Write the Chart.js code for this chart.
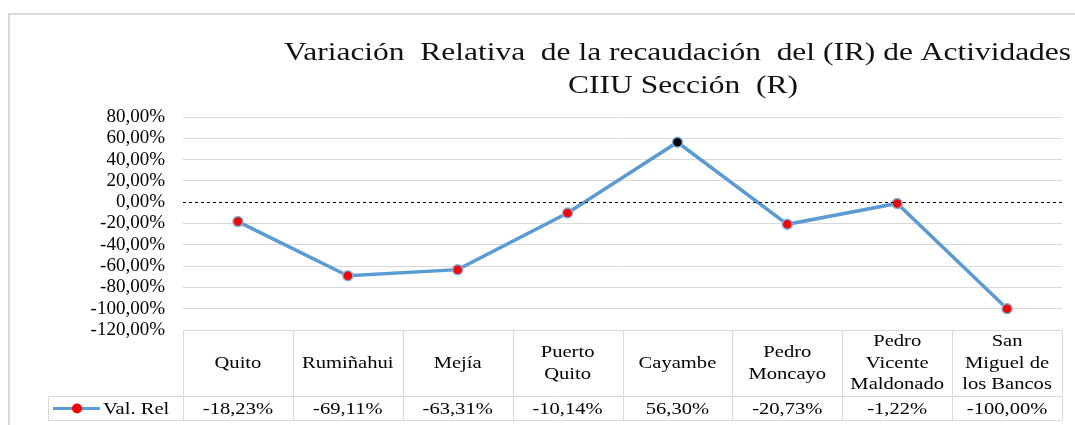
<!DOCTYPE html>
<html>
<head>
<meta charset="utf-8">
<script src="https://cdn.jsdelivr.net/npm/chart.js@4/dist/chart.umd.min.js"></script>
<style>
  html, body { margin: 0; padding: 0; background: #fff; overflow: hidden; }
</style>
</head>
<body>
<canvas id="variacionChart" width="1075" height="425"></canvas>
<script>
// Cantones (las filas de la tabla de datos, con saltos de linea)
const cantones = [
    ['Quito'],
    ['Rumiñahui'],
    ['Mejía'],
    ['Puerto', 'Quito'],
    ['Cayambe'],
    ['Pedro', 'Moncayo'],
    ['Pedro', 'Vicente', 'Maldonado'],
    ['San', 'Miguel de', 'los Bancos']
];
const valRel = [-18.23, -69.11, -63.31, -10.14, 56.30, -20.73, -1.22, -100.00];
const serieNombre = 'Val. Rel';
const tituloLineas = ['Variación  Relativa  de la recaudación  del (IR) de Actividades', 'CIIU Sección  (R)'];
const yMin = -120, yMax = 80, yStep = 20;

const FONT = '"Liberation Serif", "Times New Roman", serif';
const LINE_BLUE = '#5B9BD5';
const GRID = '#D9D9D9';
const STRETCH = 1.21; // the original text is a bit wider than tall

function fmtPct(v) {
    return v.toFixed(2).replace('.', ',') + '%';
}

function wideText(ctx, txt, x, y) {
    ctx.save();
    ctx.translate(x, y);
    ctx.scale(STRETCH, 1);
    ctx.fillText(txt, 0, 0);
    ctx.restore();
}

// the max point is drawn in black
const maxIdx = valRel.indexOf(Math.max(...valRel));

const tablaPlugin = {
    id: 'tablaDatos',
    beforeDraw(chart) {
        const ctx = chart.ctx;
        ctx.save();
        ctx.strokeStyle = GRID;
        ctx.lineWidth = 2;
        ctx.strokeRect(9, 14, 1200, 600);
        ctx.restore();
    },
    afterDatasetsDraw(chart) {
        // dashed zero line on top of the grid
        const ctx = chart.ctx;
        const area = chart.chartArea;
        const y0 = Math.round(chart.scales.y.getPixelForValue(0)) + 0.5;
        ctx.save();
        ctx.strokeStyle = '#000';
        ctx.lineWidth = 1;
        ctx.setLineDash([3, 3]);
        ctx.beginPath();
        ctx.moveTo(area.left, y0);
        ctx.lineTo(area.right, y0);
        ctx.stroke();
        ctx.restore();
    },
    afterDraw(chart) {
        const ctx = chart.ctx;
        const area = chart.chartArea;
        const xs = chart.scales.x;
        const n = cantones.length;
        const colW = (area.right - area.left) / n;
        const top = Math.round(area.bottom) + 0.5;
        const mid = top + 66;
        const bot = top + 90;
        const legLeft = 48.5;

        ctx.save();
        ctx.strokeStyle = GRID;
        ctx.lineWidth = 1;
        ctx.beginPath();
        ctx.moveTo(area.left, top); ctx.lineTo(area.right, top);
        ctx.moveTo(legLeft, mid); ctx.lineTo(area.right, mid);
        ctx.moveTo(legLeft, bot); ctx.lineTo(area.right, bot);
        ctx.moveTo(legLeft, mid); ctx.lineTo(legLeft, bot);
        for (let i = 0; i <= n; i++) {
            const x = Math.round(area.left + i * colW) + 0.5;
            ctx.moveTo(x, top); ctx.lineTo(x, bot);
        }
        ctx.stroke();

        ctx.fillStyle = '#000';
        ctx.font = '17px ' + FONT;
        ctx.textAlign = 'center';
        ctx.textBaseline = 'middle';
        const lh = 21.5;
        cantones.forEach((lines, i) => {
            const cx = xs.getPixelForValue(i);
            const startY = (top + mid) / 2 - (lines.length - 1) * lh / 2;
            lines.forEach((t, j) => wideText(ctx, t, cx, startY + j * lh));
            wideText(ctx, fmtPct(valRel[i]), cx, (mid + bot) / 2 + 1);
        });

        // legend key in the table
        const ly = (mid + bot) / 2;
        ctx.strokeStyle = LINE_BLUE;
        ctx.lineWidth = 3;
        ctx.beginPath();
        ctx.moveTo(53, ly); ctx.lineTo(100, ly);
        ctx.stroke();
        ctx.beginPath();
        ctx.arc(77, ly, 5, 0, Math.PI * 2);
        ctx.fillStyle = '#FF0000';
        ctx.fill();
        ctx.fillStyle = '#000';
        ctx.textAlign = 'left';
        wideText(ctx, serieNombre, 103, ly + 1);

        // title
        ctx.font = '26px ' + FONT;
        ctx.textBaseline = 'alphabetic';
        ctx.fillStyle = '#111';
        ctx.textAlign = 'left';
        wideText(ctx, tituloLineas[0], 284, 60);
        ctx.textAlign = 'center';
        wideText(ctx, tituloLineas[1], 683, 93);
        ctx.restore();
    }
};

const ctx = document.getElementById('variacionChart').getContext('2d');
new Chart(ctx, {
    type: 'line',
    data: {
        labels: cantones,
        datasets: [{
            label: serieNombre,
            data: valRel,
            borderColor: LINE_BLUE,
            borderWidth: 3.5,
            tension: 0,
            pointRadius: 5,
            pointBorderWidth: 1.5,
            pointBorderColor: '#7FB2E0',
            pointBackgroundColor: (c) => c.dataIndex === maxIdx ? '#000' : '#FF0000'
        }]
    },
    options: {
        responsive: false,
        animation: false,
        layout: {
            padding: { top: 117, bottom: 95, right: 13, left: 0 }
        },
        scales: {
            x: {
                display: false,
                offset: true
            },
            y: {
                min: yMin,
                max: yMax,
                border: { display: false },
                grid: {
                    color: (c) => c.tick.value === 0 ? 'rgba(0,0,0,0)' : GRID,
                    drawTicks: false
                },
                ticks: {
                    stepSize: yStep,
                    autoSkip: false,
                    padding: 18,
                    color: '#000',
                    font: { family: FONT, size: 19 },
                    callback: (v) => fmtPct(v)
                },
                afterFit: (scale) => { scale.width = 183; }
            }
        },
        plugins: {
            legend: { display: false },
            tooltip: { enabled: false },
            title: { display: false }
        }
    },
    plugins: [tablaPlugin]
});
</script>
</body>
</html>
